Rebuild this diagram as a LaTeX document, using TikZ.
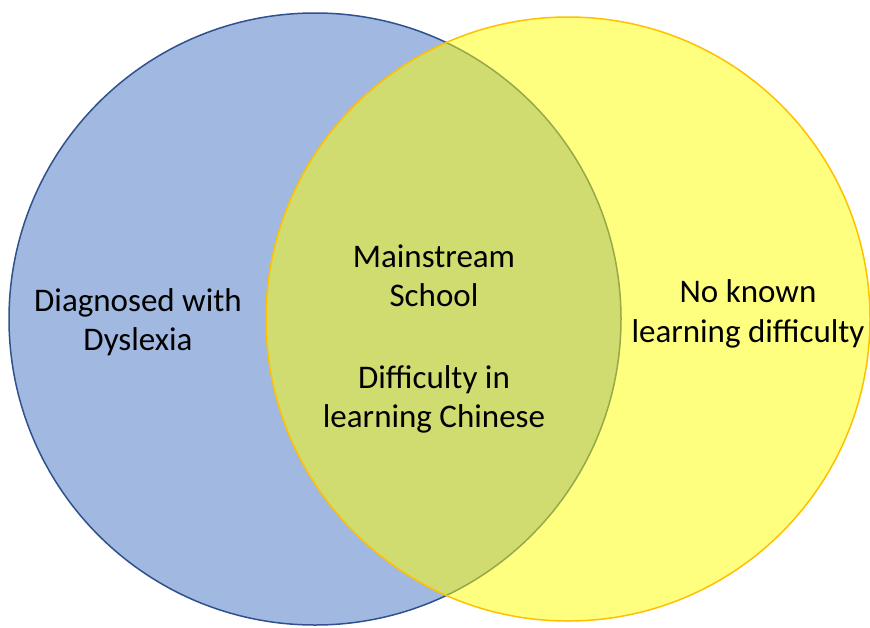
\documentclass[tikz,border=0pt]{standalone}
\usepackage{fontspec}
\setmainfont{Carlito}
\definecolor{bluefill}{HTML}{4472C4}
\definecolor{blueline}{HTML}{2F528F}
\definecolor{yelfill}{HTML}{FFFF00}
\definecolor{yelline}{HTML}{FFC000}
\begin{document}
\begin{tikzpicture}[x=1pt,y=-1pt,
  setcircle/.style={line width=1.5pt},
  label/.style={font=\fontsize{33}{39.5}\selectfont, align=center, text=black, inner sep=0pt}]
\useasboundingbox (0,0) rectangle (870,627);
\fill[white] (0,0) rectangle (870,627);
\path[setcircle, fill=bluefill, fill opacity=0.5, draw=blueline] (315,319) circle (306);
\path[setcircle, fill=yelfill, fill opacity=0.5, draw=yelline] (568,319) circle (302);
\node[label] (dys) at (138,322) {Diagnosed with\\Dyslexia};
\node[label] (mid) at (434,339) {Mainstream\\School\\[42pt]Difficulty in\\learning Chinese};
\node[label] (none) at (748,314) {No known\\learning difficulty};
\end{tikzpicture}
\end{document}
